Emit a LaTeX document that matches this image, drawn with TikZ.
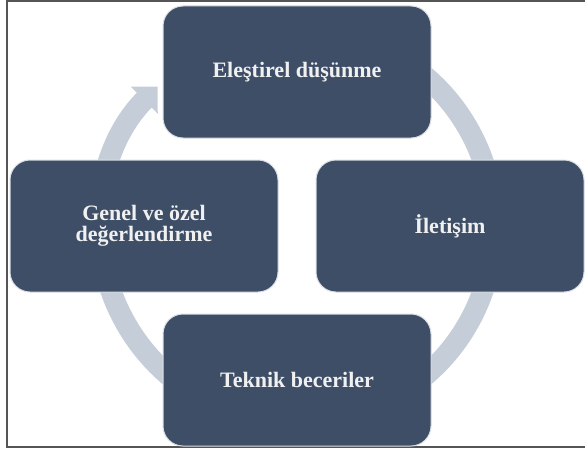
\documentclass[tikz,border=0pt]{standalone}
\usepackage{fontspec}
\setmainfont{Liberation Serif}
\usetikzlibrary{arrows.meta}
\definecolor{boxfill}{RGB}{62,78,103}
\definecolor{boxedge}{RGB}{218,223,230}
\definecolor{ringcol}{RGB}{197,206,216}
\definecolor{txtcol}{RGB}{240,240,240}
\definecolor{framecol}{RGB}{85,85,85}
\tikzset{
  cyclebox/.style={draw=boxedge, line width=1pt, fill=boxfill, rounded corners=20pt,
    minimum width=268pt, minimum height=132pt, inner sep=0pt, align=center,
    text=txtcol, font=\bfseries\fontsize{22}{21}\selectfont},
  ringarrow/.style={draw=ringcol, line width=21pt, -{Triangle[width=37pt,length=19pt]}},
  framestyle/.style={draw=framecol, line width=2pt}
}
\begin{document}
\begin{tikzpicture}[x=1pt,y=1pt]
\useasboundingbox (0,0) rectangle (585,459);
\fill[white] (0,0) rectangle (585,459);
\draw[framestyle] (590,458) -- (7,458) -- (7,12) -- (590,12);
\coordinate (ringc) at (297,233);
\draw[ringarrow] (ringc) ++(120:197) arc[start angle=120, end angle=-225, radius=197];
\node[cyclebox] (top) at (297,387) {Eleştirel düşünme};
\node[cyclebox] (right) at (450,233) {İletişim};
\node[cyclebox] (bottom) at (297,79) {Teknik beceriler};
\node[cyclebox] (left) at (144,233) {Genel ve özel\\değerlendirme};
\end{tikzpicture}
\end{document}
